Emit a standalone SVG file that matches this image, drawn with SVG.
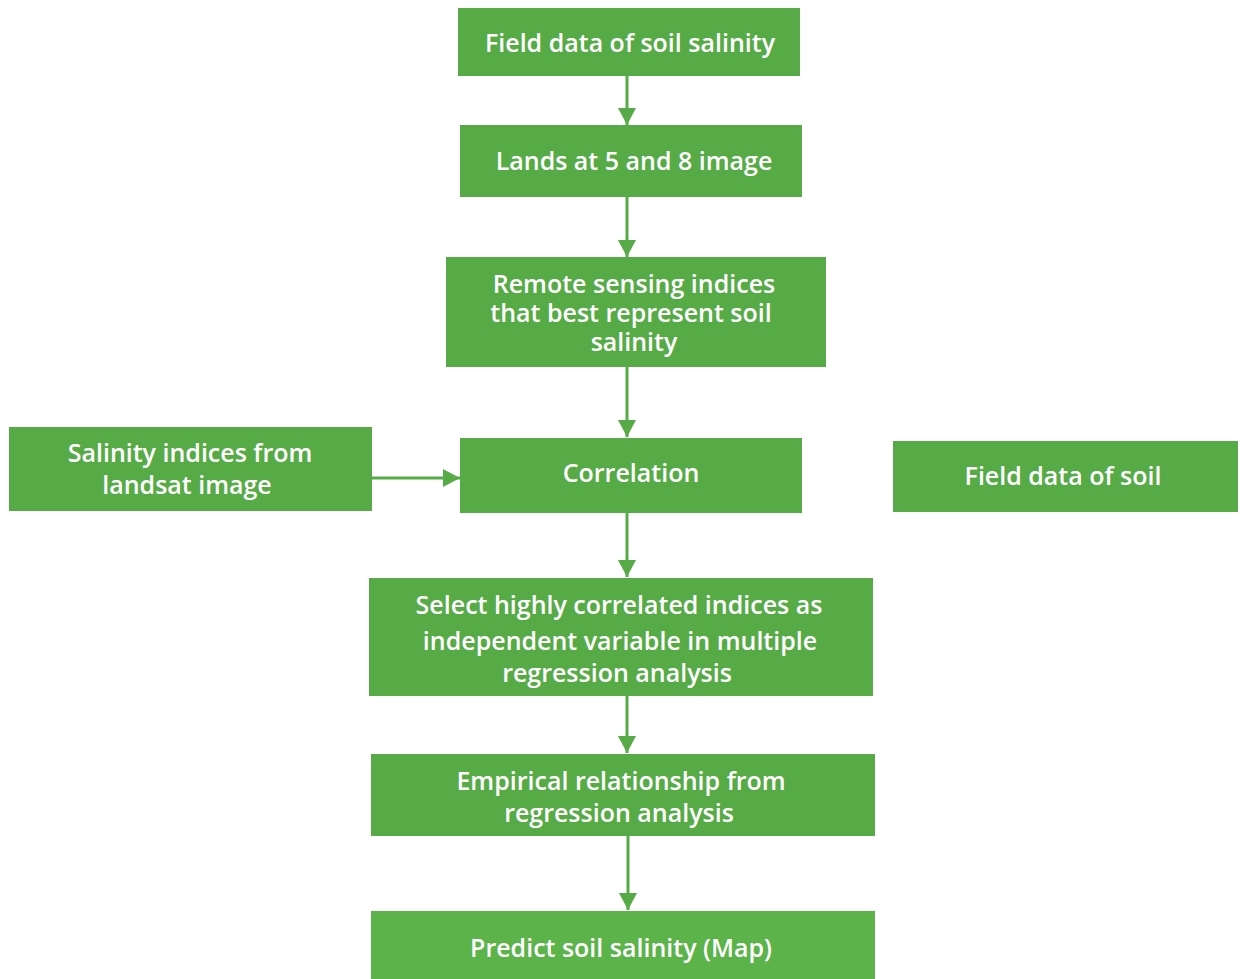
<svg xmlns="http://www.w3.org/2000/svg" width="1244" height="979" viewBox="0 0 1244 979">
<defs>
<style>
.box{fill:#57AB47}
.t{font-family:"Open Sans","Noto Sans",sans-serif;font-weight:600;font-size:25px;fill:#fff;text-anchor:middle}
.c{stroke:#57AB47;stroke-width:3;fill:none}
</style>
<marker id="ah" markerWidth="18" markerHeight="18" refX="17" refY="9" orient="auto" markerUnits="userSpaceOnUse">
<path d="M0,0 L17,9 L0,18 Z" fill="#57AB47"/>
</marker>
</defs>
<rect width="1244" height="979" fill="#fff"/>
<g id="connectors">
<line class="c" x1="627" y1="76" x2="627" y2="125" marker-end="url(#ah)"/>
<line class="c" x1="627" y1="197" x2="627" y2="257" marker-end="url(#ah)"/>
<line class="c" x1="627" y1="367" x2="627" y2="437" marker-end="url(#ah)"/>
<line class="c" x1="627" y1="513" x2="627" y2="577" marker-end="url(#ah)"/>
<line class="c" x1="627" y1="696" x2="627" y2="753" marker-end="url(#ah)"/>
<line class="c" x1="628" y1="836" x2="628" y2="910" marker-end="url(#ah)"/>
<line class="c" x1="372" y1="478" x2="460" y2="478" marker-end="url(#ah)"/>
</g>
<g id="n1"><rect class="box" x="458" y="8" width="342" height="68"/><text class="t" x="630" y="52">Field data of soil salinity</text></g>
<g id="n2"><rect class="box" x="460" y="125" width="342" height="72"/><text class="t" x="634" y="170">Lands at 5 and 8 image</text></g>
<g id="n3"><rect class="box" x="446" y="257" width="380" height="110"/><text class="t" x="634" y="293">Remote sensing indices</text><text class="t" x="631" y="322">that best represent soil</text><text class="t" x="634" y="351">salinity</text></g>
<g id="n4"><rect class="box" x="9" y="427" width="363" height="84"/><text class="t" x="190" y="462">Salinity indices from</text><text class="t" x="187" y="494">landsat image</text></g>
<g id="n5"><rect class="box" x="460" y="438" width="342" height="75"/><text class="t" x="631" y="482">Correlation</text></g>
<g id="n6"><rect class="box" x="893" y="441" width="345" height="71"/><text class="t" x="1063" y="485">Field data of soil</text></g>
<g id="n7"><rect class="box" x="369" y="578" width="504" height="118"/><text class="t" x="619" y="614">Select highly correlated indices as</text><text class="t" x="620" y="650">independent variable in multiple</text><text class="t" x="617" y="682">regression analysis</text></g>
<g id="n8"><rect class="box" x="371" y="754" width="504" height="82"/><text class="t" x="621" y="790">Empirical relationship from</text><text class="t" x="619" y="822">regression analysis</text></g>
<g id="n9"><rect x="371" y="911" width="504" height="68" fill="#5BB34A"/><text class="t" x="621" y="957">Predict soil salinity (Map)</text></g>
</svg>
